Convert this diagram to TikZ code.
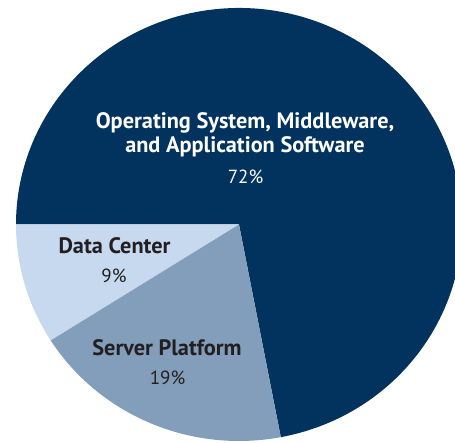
\documentclass[tikz,border=0pt]{standalone}
\usepackage{fontspec}
\setmainfont{PT Sans}
\begin{document}
\begin{tikzpicture}[x=1pt,y=1pt,
  lbl/.style={font=\fontsize{22.3}{24}\selectfont\bfseries, inner sep=0pt, align=center},
  pct/.style={font=\fontsize{19}{22}\selectfont, inner sep=0pt},
  lighttext/.style={text=white},
  darktext/.style={text=inkdark}]
\definecolor{navy}{HTML}{02335E}
\definecolor{steel}{HTML}{839EBB}
\definecolor{pale}{HTML}{C6D9EE}
\definecolor{inkdark}{HTML}{231F20}
\useasboundingbox (0,0) rectangle (455,443);
\clip (0,0) rectangle (455,443);
\coordinate (c) at (239,218.5);
% Operating system share: 72%
\fill[navy] (c) -- ++(-79.2:223 and 216.5) arc[start angle=-79.2, end angle=180, x radius=223, y radius=216.5] -- cycle;
% Data center share: 9%
\fill[pale] (c) -- ++(180:223 and 216.5) arc[start angle=180, end angle=212.4, x radius=223, y radius=216.5] -- cycle;
% Server platform share: 19%
\fill[steel] (c) -- ++(212.4:223 and 216.5) arc[start angle=212.4, end angle=280.8, x radius=223, y radius=216.5] -- cycle;
\node[lbl, lighttext] (oslbl) at (245,308) {Operating System, Middleware,\\and Application Software};
\node[pct, lighttext] (ospct) at (245.5,266) {72\%};
\node[lbl, darktext] (dclbl) at (114.5,197.3) {Data Center};
\node[pct, darktext] (dcpct) at (114,167) {9\%};
\node[lbl, darktext] (splbl) at (167,95) {Server Platform};
\node[pct, darktext] (sppct) at (167.5,65) {19\%};
\end{tikzpicture}
\end{document}
